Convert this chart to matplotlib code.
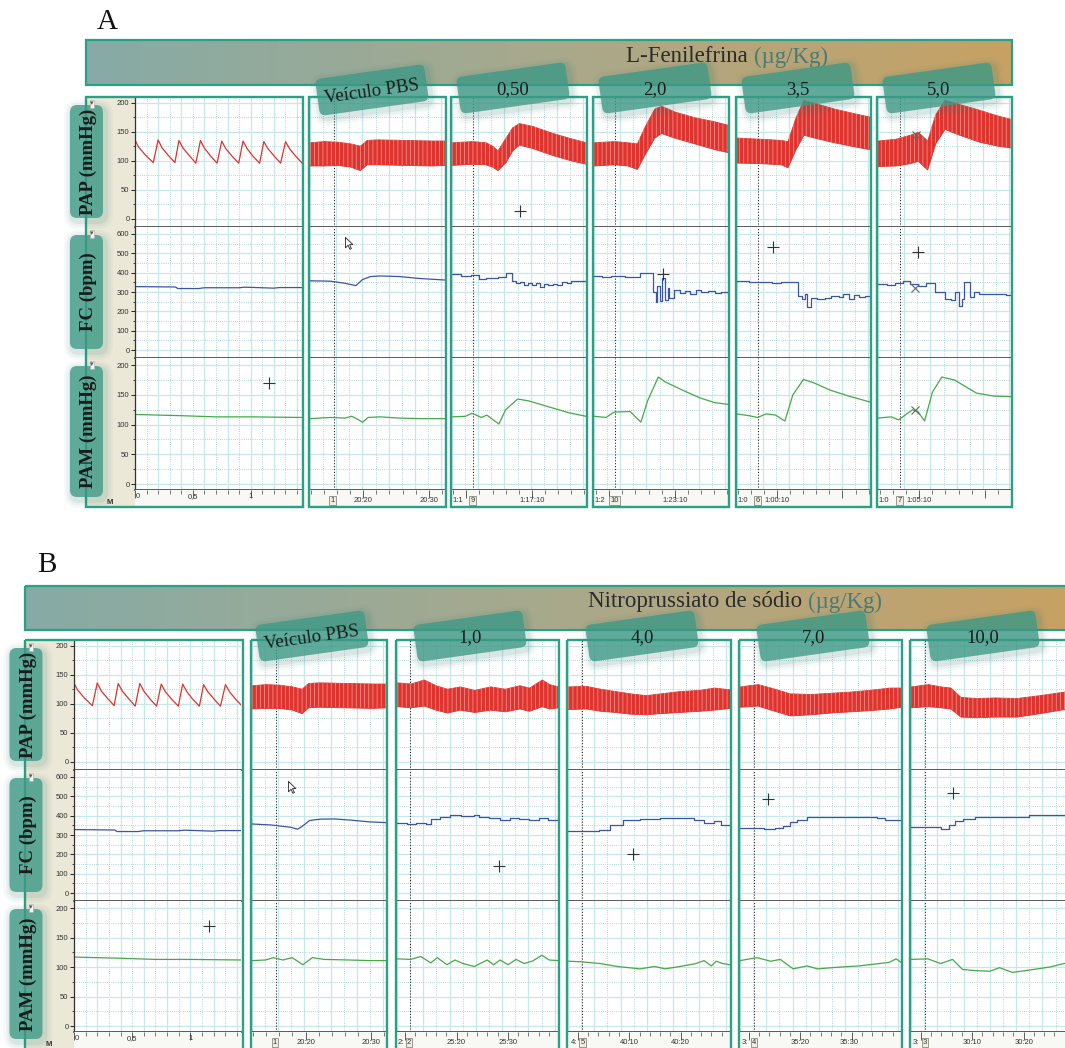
import numpy as np
import matplotlib.pyplot as plt
from matplotlib.patches import Rectangle, FancyBboxPatch
from matplotlib.transforms import Affine2D
from matplotlib.path import Path
from matplotlib.ticker import MultipleLocator, FixedLocator
from matplotlib.colors import LinearSegmentedColormap

plt.rcParams['font.family'] = ['Liberation Sans', 'DejaVu Sans']
plt.rcParams['hatch.linewidth'] = 0.5

W, H = 1065, 1048

# ---------------- dados ----------------
# registro basal (igual em A e B), tempo em min
BASE_T_MAX = 1.44
BASE_PAP_T = [0.0, 0.03, 0.09, 0.158, 0.20, 0.235, 0.29, 0.345, 0.38, 0.415, 0.47, 0.526,
              0.566, 0.60, 0.655, 0.71, 0.75, 0.785, 0.84, 0.897, 0.934, 0.97, 1.02, 1.078,
              1.114, 1.15, 1.205, 1.259, 1.302, 1.34, 1.39, 1.446]
BASE_PAP = [136, 124, 110, 97, 136, 122, 109, 97, 135, 122, 109, 96, 135, 122, 108, 96,
            134, 121, 108, 96, 134, 121, 108, 96, 133, 121, 108, 96, 133, 120, 108, 96]
BASE_FC_T = [0, 0.35, 0.37, 0.55, 0.6, 0.9, 0.95, 1.2, 1.25, 1.45]
BASE_FC = [328, 326, 318, 318, 322, 322, 325, 320, 323, 323]
BASE_PAM_T = [0, 0.2, 0.4, 0.7, 1.0, 1.45]
BASE_PAM = [117, 116, 115, 113, 113, 112]
BASE_CROSS = (1.16, 170)

# A: L-Fenilefrina, tempo normalizado (0..1) em cada janela
DOSES_A = ["Veículo PBS", "0,50", "2,0", "3,5", "5,0"]
A_PAP_T = [[0, 0.1, 0.2, 0.3, 0.37, 0.42, 0.5, 0.7, 0.9, 1.0],
           [0, 0.15, 0.25, 0.3, 0.34, 0.4, 0.45, 0.5, 0.6, 0.75, 0.9, 1.0],
           [0, 0.15, 0.25, 0.32, 0.38, 0.45, 0.5, 0.6, 0.75, 0.9, 1.0],
           [0, 0.18, 0.33, 0.38, 0.44, 0.5, 0.58, 0.73, 0.88, 1.0],
           [0, 0.13, 0.24, 0.30, 0.37, 0.43, 0.50, 0.61, 0.76, 0.90, 1.0]]
A_PAP_HI = [[132, 134, 133, 130, 126, 136, 137, 136, 135, 135],
            [132, 134, 132, 126, 118, 140, 158, 165, 160, 148, 138, 132],
            [132, 134, 132, 130, 160, 190, 195, 185, 175, 168, 162],
            [140, 138, 136, 134, 175, 205, 200, 190, 182, 176],
            [135, 138, 145, 150, 135, 180, 205, 198, 188, 178, 172]]
A_PAP_LO = [[92, 92, 93, 90, 84, 94, 94, 93, 92, 93],
            [93, 95, 94, 90, 84, 98, 118, 128, 122, 110, 100, 95],
            [92, 94, 92, 86, 112, 140, 148, 140, 130, 120, 115],
            [97, 96, 94, 89, 120, 145, 140, 132, 125, 120],
            [91, 92, 96, 100, 85, 130, 155, 145, 133, 126, 123]]
A_FC_T = [[0, 0.15, 0.26, 0.34, 0.39, 0.45, 0.52, 0.66, 0.81, 1],
          [0, 0.07, 0.14, 0.2, 0.25, 0.34, 0.40, 0.45, 0.48, 0.51, 0.54, 0.57, 0.60, 0.63,
           0.66, 0.69, 0.72, 0.75, 0.78, 0.82, 0.86, 0.89, 1.0],
          [0, 0.06, 0.125, 0.235, 0.29, 0.345, 0.40, 0.44, 0.46, 0.47, 0.49, 0.51, 0.53,
           0.55, 0.56, 0.60, 0.64, 0.68, 0.72, 0.76, 0.80, 0.85, 0.90, 0.95, 1.0],
          [0, 0.09, 0.18, 0.26, 0.33, 0.41, 0.46, 0.49, 0.51, 0.53, 0.56, 0.60, 0.66, 0.71,
           0.77, 0.80, 0.84, 0.88, 0.92, 0.96, 1.0],
          [0, 0.07, 0.13, 0.19, 0.24, 0.30, 0.36, 0.43, 0.50, 0.55, 0.58, 0.61, 0.63, 0.65,
           0.69, 0.72, 0.76, 0.80, 0.85, 0.91, 0.96, 1.0]]
A_FC = [[358, 356, 345, 333, 365, 380, 383, 380, 370, 362],
        [392, 385, 390, 368, 375, 380, 398, 357, 345, 350, 338, 348, 335, 345, 328, 342,
         336, 344, 338, 350, 345, 357, 358],
        [383, 378, 385, 380, 376, 400, 398, 300, 250, 330, 255, 370, 260, 320, 270, 310,
         295, 305, 290, 310, 300, 305, 295, 300, 295],
        [355, 350, 352, 348, 354, 350, 280, 262, 290, 225, 270, 265, 268, 280, 272, 290,
         265, 285, 272, 278, 275],
        [343, 338, 348, 355, 340, 330, 345, 300, 262, 258, 300, 228, 262, 352, 275, 300,
         292, 288, 292, 288, 285, 290]]
A_PAM_T = [[0, 0.15, 0.26, 0.31, 0.36, 0.39, 0.43, 0.52, 0.66, 0.81, 1],
           [0, 0.1, 0.15, 0.22, 0.26, 0.35, 0.40, 0.49, 0.57, 0.72, 0.87, 1],
           [0, 0.09, 0.15, 0.27, 0.35, 0.40, 0.48, 0.53, 0.66, 0.79, 0.9, 1],
           [0, 0.09, 0.155, 0.22, 0.29, 0.36, 0.42, 0.5, 0.58, 0.7, 0.84, 1],
           [0, 0.1, 0.155, 0.26, 0.30, 0.35, 0.41, 0.48, 0.575, 0.74, 0.87, 1]]
A_PAM = [[110, 112, 111, 114, 108, 104, 112, 113, 111, 110, 110],
         [113, 114, 119, 112, 116, 101, 125, 143, 140, 130, 120, 114],
         [114, 112, 121, 122, 104, 140, 180, 172, 158, 145, 137, 134],
         [118, 115, 112, 118, 116, 106, 150, 176, 170, 158, 148, 138],
         [111, 113, 108, 125, 122, 106, 155, 180, 175, 153, 148, 147]]
A_INJ = [0.175, 0.154, 0.154, 0.155, 0.163]
# (janela, linha, marcador, t, valor)
A_MARKS = [(1, 0, '+', 0.507, 14), (2, 1, '+', 0.515, 394), (3, 1, '+', 0.267, 534),
           (4, 1, '+', 0.304, 508), (4, 1, 'x', 0.281, 321), (4, 2, 'x', 0.281, 124),
           (4, 0, 'x', 0.289, 145)]
A_CURSOR = (0, 0.26, 585)
A_TIME = [[(0.168, '1', True), (0.394, '20:20', False), (0.883, '20:30', False)],
          [(0.045, '1:1', False), (0.154, '9', True), (0.596, '1:17:10', False)],
          [(0.045, '1:2', False), (0.154, '10', True), (0.603, '1:23:10', False)],
          [(0.045, '1:0', False), (0.155, '6', True), (0.30, '1:00:10', False)],
          [(0.045, '1:0', False), (0.163, '7', True), (0.31, '1:05:10', False)]]

# B: Nitroprussiato de sódio
DOSES_B = ["Veículo PBS", "1,0", "4,0", "7,0", "10,0"]
B_PAP_T = [[0, 0.1, 0.2, 0.3, 0.37, 0.42, 0.5, 0.7, 0.9, 1],
           [0, 0.086, 0.166, 0.24, 0.31, 0.39, 0.48, 0.58, 0.67, 0.76, 0.82, 0.9, 0.945, 1],
           [0, 0.11, 0.2, 0.29, 0.385, 0.48, 0.57, 0.69, 0.81, 0.9, 1],
           [0, 0.11, 0.19, 0.31, 0.44, 0.56, 0.68, 0.8, 0.93, 1],
           [0, 0.104, 0.184, 0.245, 0.307, 0.4, 0.52, 0.656, 0.8, 0.95, 1]]
B_PAP_HI = [[132, 134, 133, 130, 126, 136, 137, 136, 135, 135],
            [137, 135, 142, 132, 126, 130, 124, 130, 126, 132, 128, 142, 134, 130],
            [130, 131, 126, 122, 118, 115, 118, 122, 124, 128, 125],
            [130, 134, 128, 118, 117, 119, 121, 124, 128, 128],
            [130, 134, 130, 128, 112, 110, 111, 110, 115, 121, 122]]
B_PAP_LO = [[92, 93, 93, 90, 84, 94, 95, 94, 93, 94],
            [96, 94, 97, 90, 85, 90, 86, 90, 87, 92, 88, 96, 92, 94],
            [91, 92, 88, 86, 83, 82, 84, 86, 88, 90, 93],
            [95, 97, 90, 80, 82, 85, 87, 89, 92, 95],
            [94, 96, 94, 92, 78, 77, 78, 78, 84, 91, 92]]
B_FC_T = [[0, 0.14, 0.29, 0.34, 0.375, 0.43, 0.51, 0.62, 0.77, 0.875, 1],
          [0, 0.06, 0.117, 0.18, 0.21, 0.27, 0.33, 0.40, 0.48, 0.51, 0.57, 0.64, 0.70, 0.76,
           0.82, 0.88, 0.94, 1],
          [0, 0.11, 0.19, 0.26, 0.34, 0.445, 0.57, 0.72, 0.78, 0.84, 0.9, 0.945, 1],
          [0, 0.067, 0.147, 0.22, 0.27, 0.31, 0.355, 0.417, 0.56, 0.74, 0.85, 0.9, 1],
          [0, 0.09, 0.184, 0.233, 0.276, 0.32, 0.4, 0.55, 0.69, 0.736, 0.95, 1]]
B_FC = [[357, 352, 340, 330, 345, 375, 382, 383, 375, 368, 364],
        [362, 358, 360, 356, 385, 395, 405, 398, 405, 392, 388, 380, 388, 385, 378, 386, 380, 390],
        [320, 322, 325, 350, 378, 385, 390, 390, 378, 362, 372, 350, 348],
        [338, 336, 331, 335, 345, 365, 378, 392, 393, 392, 390, 378, 376],
        [344, 342, 331, 350, 372, 385, 392, 393, 395, 404, 402, 402]]
B_PAM_T = [[0, 0.1, 0.16, 0.23, 0.3, 0.38, 0.45, 0.54, 0.73, 0.875, 1],
           [0, 0.086, 0.147, 0.21, 0.25, 0.31, 0.36, 0.41, 0.48, 0.56, 0.6, 0.64, 0.69, 0.74,
            0.79, 0.84, 0.9, 0.945, 1],
           [0, 0.08, 0.2, 0.305, 0.445, 0.535, 0.6, 0.69, 0.79, 0.84, 0.885, 0.915, 0.955, 1],
           [0, 0.105, 0.19, 0.25, 0.33, 0.417, 0.48, 0.62, 0.74, 0.865, 0.926, 0.97, 1],
           [0, 0.104, 0.184, 0.258, 0.32, 0.4, 0.49, 0.55, 0.63, 0.736, 0.86, 0.95, 1]]
B_PAM = [[111, 112, 116, 112, 116, 104, 116, 113, 112, 111, 111],
         [114, 113, 118, 107, 116, 104, 112, 106, 101, 112, 104, 112, 104, 113, 106, 110, 120, 112, 111],
         [110, 109, 106, 101, 97, 101, 97, 101, 106, 111, 102, 110, 106, 104],
         [111, 116, 110, 113, 97, 102, 97, 100, 102, 106, 108, 114, 108],
         [113, 114, 106, 113, 96, 94, 93, 99, 91, 95, 100, 106, 107]]
B_INJ = [0.176, 0.08, 0.085, 0.086, 0.086]
B_MARKS = [(1, 1, '+', 0.632, 140), (2, 1, '+', 0.402, 202), (3, 1, '+', 0.172, 487),
           (4, 1, '+', 0.258, 518)]
B_CURSOR = (0, 0.265, 580)
B_TIME = [[(0.17, '1', True), (0.40, '20:20', False), (0.89, '20:30', False)],
          [(0.025, '2:', False), (0.075, '2', True), (0.37, '25:20', False), (0.69, '25:30', False)],
          [(0.036, '4:', False), (0.09, '5', True), (0.378, '40:10', False), (0.695, '40:20', False)],
          [(0.03, '3:', False), (0.086, '4', True), (0.374, '35:20', False), (0.68, '35:30', False)],
          [(0.03, '3:', False), (0.086, '3', True), (0.38, '30:10', False), (0.70, '30:20', False)]]

ROW_NAMES = ["PAP (mmHg)", "FC (bpm)", "PAM (mmHg)"]

# ---------------- estilo ----------------
TEAL = '#2aa084'
RED, BLUE, GREEN = '#e0332e', '#3a55a4', '#45a94a'
ROW_LIMS = [(-14, 210), (-41, 636), (-10, 212)]
ROW_STEP = [(50, 25), (100, 50), (50, 25)]
SERIF = 'Liberation Serif'

fig = plt.figure(figsize=(W / 100, H / 100), dpi=100)
bg = fig.add_axes([0, 0, 1, 1], zorder=-5)
bg.set_xlim(0, W); bg.set_ylim(H, 0); bg.axis('off')
top = fig.add_axes([0, 0, 1, 1], zorder=20)
top.set_xlim(0, W); top.set_ylim(H, 0); top.axis('off'); top.patch.set_visible(False)

grad_cmap = LinearSegmentedColormap.from_list('hdr', ['#86aba6', '#a8a98c', '#c8a163'])


def px_axes(x0, y0, x1, y1, z=1):
    return fig.add_axes([x0 / W, 1 - y1 / H, (x1 - x0) / W, (y1 - y0) / H], zorder=z)


def style_row(ax, row, xmax, xminor, base=False):
    ax.set_xlim(0, xmax)
    ax.set_ylim(*ROW_LIMS[row])
    ax.yaxis.set_major_locator(MultipleLocator(ROW_STEP[row][0]))
    ax.yaxis.set_minor_locator(MultipleLocator(ROW_STEP[row][1]))
    ax.xaxis.set_major_locator(MultipleLocator(2 * xminor))
    ax.xaxis.set_minor_locator(MultipleLocator(xminor))
    ax.grid(which='major', color='#c8e7ea', lw=0.9, ls='-')
    ax.grid(which='minor', color='#98cdd2', lw=0.6, ls=(0, (1, 1.6)))
    ax.set_axisbelow(True)
    for s in ('top', 'right'):
        ax.spines[s].set_visible(False)
    ax.spines['bottom'].set_color('#4d4d4d')
    ax.spines['bottom'].set_linewidth(1.3)
    ax.tick_params(axis='x', which='both', length=0, labelbottom=False)
    if base:
        ax.spines['left'].set_color('#333333')
        ax.spines['left'].set_linewidth(0.9)
        ax.tick_params(axis='y', which='major', length=3, width=0.6, labelsize=5.5,
                       labelcolor='#333333', pad=1)
        ax.tick_params(axis='y', which='minor', length=1.8, width=0.5)
    else:
        ax.spines['left'].set_visible(False)
        ax.tick_params(axis='y', which='both', length=0, labelleft=False)


def style_strip(ax, xmax, majors, minors):
    ax.set_xlim(0, xmax)
    ax.set_ylim(0, 1)
    ax.set_facecolor('#f8f8f4')
    ax.xaxis.set_major_locator(FixedLocator(majors))
    ax.xaxis.set_minor_locator(FixedLocator(minors))
    ax.xaxis.tick_top()
    ax.tick_params(axis='x', which='major', direction='in', length=6, width=0.6, color='#444444',
                   labeltop=False)
    ax.tick_params(axis='x', which='minor', direction='in', length=3, width=0.5, color='#444444')
    ax.tick_params(axis='y', left=False, labelleft=False)
    for s in ax.spines.values():
        s.set_visible(False)


def badge(cx, cy, w, h, ang, rs=6):
    tr = Affine2D().rotate_deg_around(cx, cy, -ang) + top.transData
    for k, a in [(8, 0.04), (5.5, 0.06), (3, 0.09)]:
        top.add_patch(FancyBboxPatch((cx - w / 2 - k + 2, cy - h / 2 - k + 3), w + 2 * k, h + 2 * k,
                                     boxstyle=f'round,pad=0,rounding_size={rs + k}',
                                     fc='#2f7f70', ec='none', alpha=a, transform=tr))
    top.add_patch(FancyBboxPatch((cx - w / 2, cy - h / 2), w, h,
                                 boxstyle=f'round,pad=0,rounding_size={rs}',
                                 fc='#3e9a87', ec='none', alpha=0.78, transform=tr))


cursor_path = Path([(0, 0), (0, -14), (3.5, -10.5), (6, -16), (8, -15), (5.5, -9.5), (10, -9.5), (0, 0)])


def draw_block(letter, letter_xy, header, title, split_x, title_y, rows_y, base_box, plot_left,
               boxes, doses, badge_xy, pap_t, pap_hi, pap_lo, fc_t, fc, pam_t, pam, inj, marks,
               cursor, times, minor_px, label_x):
    y0, y1, y2, y3, y4 = rows_y
    # letra
    top.text(*letter_xy, letter, fontsize=21, family=SERIF, ha='center', va='center', color='#111111')
    # barra de título com degradê
    hx0, hy0, hx1, hy1 = header
    grad = np.linspace(0, 1, 256).reshape(1, -1)
    bg.imshow(grad, extent=[hx0, hx1, hy1, hy0], cmap=grad_cmap, aspect='auto', zorder=1)
    bg.add_patch(Rectangle((hx0, hy0), hx1 - hx0, hy1 - hy0, fc='none', ec=TEAL, lw=1.6, zorder=2))
    bg.text(split_x, title_y, title + ' ', fontsize=16.5, family=SERIF, ha='right', va='center',
            color='#2b2b2b', zorder=3)
    bg.text(split_x, title_y, '(µg/Kg)', fontsize=16.5, family=SERIF, ha='left', va='center',
            color='#4a7a75', zorder=3)

    # janela basal
    bx0, bx1 = base_box
    bg.add_patch(Rectangle((bx0, y0), plot_left - bx0, y4 - y0, fc='#ebe8d8', ec='none', zorder=1))
    edges = [y0, y1, y2, y3]
    axs = []
    for r in range(3):
        ax = px_axes(plot_left, edges[r], bx1 - 1.5, edges[r + 1])
        style_row(ax, r, BASE_T_MAX, 0.1, base=True)
        axs.append(ax)
    axs[0].plot(BASE_PAP_T, BASE_PAP, color=RED, lw=0.9)
    axs[1].plot(BASE_FC_T, BASE_FC, color=BLUE, lw=0.9)
    axs[2].plot(BASE_PAM_T, BASE_PAM, color=GREEN, lw=0.9)
    axs[2].plot(*BASE_CROSS, marker='+', ms=9, mew=0.8, color='#333333')
    st = px_axes(plot_left, y3, bx1 - 1.5, y4)
    style_strip(st, BASE_T_MAX, [0, 0.5, 1.0], np.arange(0, BASE_T_MAX, 0.1))
    st.set_ylim(1, 0)
    tf = st.get_xaxis_transform()
    for xv, s, ha in [(0.005, '0', 'left'), (0.5, '0,5', 'center'), (1.0, '1', 'center')]:
        st.text(xv, 0.62, s, transform=tf, fontsize=5.5, ha=ha, va='center', color='#333333')
    top.text(plot_left - 25, y4 - 5, 'M', fontsize=5.5, weight='bold', ha='center', va='center',
             color='#333333')
    top.add_patch(Rectangle((bx0, y0), bx1 - bx0, y4 - y0, fc='none', ec=TEAL, lw=1.7))

    # janelas das doses
    for i, (xa, xb) in enumerate(boxes):
        wpx = xb - xa
        step = 13.3 / wpx
        axs = []
        for r in range(3):
            ax = px_axes(xa + 1, edges[r], xb - 1, edges[r + 1])
            style_row(ax, r, 1.0, step)
            ax.axvline(inj[i], color='#222222', lw=0.7, ls=(0, (1.2, 1.8)), zorder=1)
            axs.append(ax)
        axs[0].fill_between(pap_t[i], pap_lo[i], pap_hi[i], color=RED, lw=0.6, zorder=2)
        axs[0].fill_between(pap_t[i], pap_lo[i], pap_hi[i], facecolor='none', edgecolor='#f29a96',
                            hatch='||||', lw=0, zorder=3)
        axs[1].plot(fc_t[i], fc[i], color=BLUE, lw=0.9, drawstyle='default' if i == 0 else 'steps-post',
                    zorder=3)
        axs[2].plot(pam_t[i], pam[i], color=GREEN, lw=0.9, zorder=3)
        for (pi, r, mk, tx, vy) in marks:
            if pi == i:
                axs[r].plot(tx, vy, marker=mk, ms=9 if mk == '+' else 6, mew=0.8,
                            color='#333333' if mk == '+' else '#666666', zorder=5)
        if cursor[0] == i:
            axs[1].plot(cursor[1], cursor[2], marker=cursor_path, ms=17, mfc='white', mec='#222222',
                        mew=0.6, zorder=6)
        # faixa de tempo
        st = px_axes(xa + 1, y3, xb - 1, y4)
        tlab = [t for t, s, boxed in times[i] if not boxed and ':' in s and len(s) > 3]
        mstep = minor_px[i] / wpx
        first = tlab[0] % (5 * mstep)
        style_strip(st, 1.0, np.arange(first, 1.0, 5 * mstep), np.arange(first % mstep, 1.0, mstep))
        tf = st.get_xaxis_transform()
        for t, s, boxed in times[i]:
            if boxed:
                st.text(t, 0.4, s, transform=tf, fontsize=5.5, ha='center', va='center', color='#333333',
                        bbox=dict(boxstyle='square,pad=0.15', fc='#f1efe4', ec='#8a8a80', lw=0.6))
            else:
                st.text(t, 0.4, s, transform=tf, fontsize=5.5, ha='center', va='center', color='#333333')
        top.add_patch(Rectangle((xa, y0), xb - xa, y4 - y0, fc='none', ec=TEAL, lw=1.7))

    # etiquetas das doses
    for i, (cx, cy) in enumerate(badge_xy):
        badge(cx, cy, 110, 37, 8)
        rot = 8 if i == 0 else 0
        top.text(cx, cy + 2, doses[i], fontsize=13.5, family=SERIF, ha='center', va='center',
                 rotation=rot, rotation_mode='anchor', color='#1b1b1b')

    # etiquetas das variáveis
    for r in range(3):
        ya, yb = edges[r] + 8, edges[r + 1] - 9
        if r == 2:
            yb = edges[3] + 7
        badge(label_x, (ya + yb) / 2, 33, yb - ya, 0, rs=7)
        top.text(label_x + 2, (ya + yb) / 2, ROW_NAMES[r], fontsize=13.5, family=SERIF, weight='bold',
                 rotation=90, ha='center', va='center', color='#1b1b1b')
        top.text(bx0 + 6, edges[r] + 7, '▾', fontsize=5, ha='center', va='center', color='#555555',
                 bbox=dict(boxstyle='square,pad=0.1', fc='#f4f4f0', ec='#aaaaaa', lw=0.4))


draw_block('A', (107, 22), (86, 40, 1012, 85), 'L-Fenilefrina', 754, 57,
           [97, 227, 358, 490, 507], (86, 303), 135,
           [(309, 446), (451, 587), (593, 729), (736, 871), (877, 1012)], DOSES_A,
           [(372, 90), (513, 88), (655, 88), (798, 88), (939, 88)],
           A_PAP_T, A_PAP_HI, A_PAP_LO, A_FC_T, A_FC, A_PAM_T, A_PAM, A_INJ, A_MARKS, A_CURSOR,
           A_TIME, [13.3] * 5, 86.5)

draw_block('B', (47, 565), (25, 586, 1075, 630), 'Nitroprussiato de sódio', 808, 602,
           [640, 770, 901, 1032, 1050], (25, 243), 74,
           [(251, 387), (396, 559), (567, 731), (739, 902), (910, 1073)], DOSES_B,
           [(312, 636), (470, 636), (642, 636), (813, 636), (983, 636)],
           B_PAP_T, B_PAP_HI, B_PAP_LO, B_FC_T, B_FC, B_PAM_T, B_PAM, B_INJ, B_MARKS, B_CURSOR,
           B_TIME, [13.3, 10.4, 10.4, 10.4, 10.4], 26)

fig.savefig('out.png', dpi=100)
